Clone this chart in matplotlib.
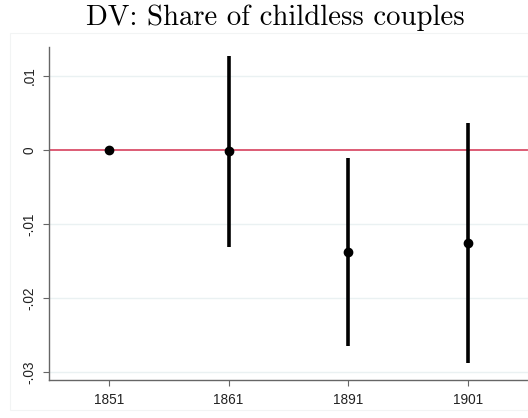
import matplotlib.pyplot as plt
import numpy as np

# coefficients by census year, 1851 is the base year
years = ['1851', '1861', '1891', '1901']
coef = [0.0, -0.00014, -0.01378, -0.0126]
ci_low = [0.0, -0.01307, -0.02649, -0.02882]
ci_high = [0.0, 0.01274, -0.00108, 0.0036]
yticks = [0.01, 0.0, -0.01, -0.02, -0.03]
ytick_labels = ['.01', '0', '-.01', '-.02', '-.03']

fig = plt.figure(figsize=(5.28, 4.18), dpi=100)
ax = fig.add_axes([49 / 528, 38 / 418, 479 / 528, 333 / 418])

x = np.arange(len(years))
coef = np.array(coef)
ci_low = np.array(ci_low)
ci_high = np.array(ci_high)

ax.axhline(0, color='#D3304F', lw=1.1, zorder=2)
for yt in yticks:
    if yt != 0:
        ax.axhline(yt, color='#EAF1F2', lw=1.0, zorder=0)

has_ci = ci_high > ci_low
ax.vlines(x[has_ci], ci_low[has_ci], ci_high[has_ci], color='black', lw=2.6, zorder=3)
ax.plot(x, coef, 'o', color='black', ms=6, zorder=4)

ax.set_xlim(-0.5, 3.5)
ax.set_ylim(-0.03108, 0.01392)
ax.set_xticks(x)
ax.set_xticklabels(years, fontsize=9.8, family='Liberation Sans', color='#222222')
ax.set_yticks(yticks)
ax.set_yticklabels(ytick_labels, fontsize=9.8, family='Liberation Sans', color='#222222',
                   rotation=90, va='center')

for side in ['top', 'right']:
    ax.spines[side].set_visible(False)
for side in ['left', 'bottom']:
    ax.spines[side].set_color('#666666')
    ax.spines[side].set_linewidth(1.0)
ax.tick_params(axis='both', length=4, width=0.8, color='#666666', pad=5)

fig.text(0.521, 0.957, 'DV: Share of childless couples', ha='center', va='center',
         fontsize=20.7, family='cmr10')

# faint frame round the plot region
frame = plt.Rectangle((10 / 528, 8 / 418), 518 / 528, 377 / 418, transform=fig.transFigure,
                      fill=False, edgecolor='#F2F4F4', lw=0.8)
fig.add_artist(frame)

fig.savefig('out.png', dpi=100)
